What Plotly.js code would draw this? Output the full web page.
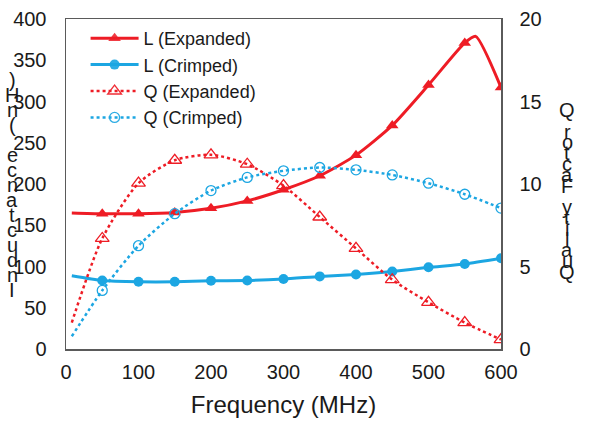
<!DOCTYPE html>
<html>
<head>
<meta charset="utf-8">
<script src="https://cdn.plot.ly/plotly-3.0.1.min.js"></script>
<style>html,body{margin:0;padding:0;background:#fff;}#chart{width:592px;height:428px;}</style>
</head>
<body>
<div id="chart"></div>
<script>
// ---- data ----
const lExpX = [8, 50, 100, 150, 200, 250, 300, 350, 400, 450, 500, 550, 565, 600];
const lExpY = [165, 164, 164, 165.5, 170.5, 179.5, 193, 210, 235, 271, 320, 371, 379, 317];
const lExpMarked = [0, 1, 1, 1, 1, 1, 1, 1, 1, 1, 1, 1, 0, 1];

const lCrX = [8, 50, 100, 150, 200, 250, 300, 350, 400, 450, 500, 550, 600];
const lCrY = [88.8, 83, 81.5, 81.5, 82.7, 83, 84.8, 88, 90.4, 94, 99, 103, 110];
const lCrMarked = [0, 1, 1, 1, 1, 1, 1, 1, 1, 1, 1, 1, 1];

const qExpX = [8, 50, 100, 150, 200, 250, 300, 350, 400, 450, 500, 550, 600];
const qExpY = [1.6, 6.7, 10.05, 11.44, 11.77, 11.2, 9.9, 8.0, 6.1, 4.2, 2.83, 1.6, 0.57];
const qExpMarked = [0, 1, 1, 1, 1, 1, 1, 1, 1, 1, 1, 1, 1];

const qCrX = [8, 50, 100, 150, 200, 250, 300, 350, 400, 450, 500, 550, 600];
const qCrY = [0.77, 3.55, 6.26, 8.2, 9.6, 10.4, 10.8, 11.0, 10.86, 10.55, 10.05, 9.38, 8.54];
const qCrMarked = [0, 1, 1, 1, 1, 1, 1, 1, 1, 1, 1, 1, 1];

const seriesNames = ["L (Expanded)", "L (Crimped)", "Q (Expanded)", "Q (Crimped)"];
const xTitle = "Frequency (MHz)";
const leftTitle = "Inductance (nH)";
const rightTitle = "Quality Factor Q";

const RED = "#ee1c25";
const BLUE = "#1ca6e2";
const FONT = "Liberation Sans, Arial, sans-serif";
const TXT = "#1a1a1a";

function opac(marked) { return marked.map(m => m ? 1 : 0); }

const traces = [
  {x: lExpX, y: lExpY, name: seriesNames[0], mode: "lines+markers", yaxis: "y",
   line: {color: RED, width: 3, shape: "spline", smoothing: 0.6},
   marker: {symbol: "triangle-up", color: RED, size: 11, opacity: opac(lExpMarked)}},
  {x: lCrX, y: lCrY, name: seriesNames[1], mode: "lines+markers", yaxis: "y",
   line: {color: BLUE, width: 3, shape: "spline", smoothing: 0.6},
   marker: {symbol: "circle", color: BLUE, size: 10, opacity: opac(lCrMarked)}},
  {x: qExpX, y: qExpY, name: seriesNames[2], mode: "lines+markers", yaxis: "y2",
   line: {color: RED, width: 2.5, dash: "dot", shape: "spline", smoothing: 0.7},
   marker: {symbol: "triangle-up-open", color: RED, size: 12, opacity: opac(qExpMarked), line: {width: 1.3, color: RED}}},
  {x: qCrX, y: qCrY, name: seriesNames[3], mode: "lines+markers", yaxis: "y2",
   line: {color: BLUE, width: 2.5, dash: "dot", shape: "spline", smoothing: 0.7},
   marker: {symbol: "circle-open", color: BLUE, size: 10, opacity: opac(qCrMarked), line: {width: 1.3, color: BLUE}}}
];

// stacked upright letters for the vertical titles (as in the reference)
const annotations = [];
function stack(text, xPix, yTop, yBottom) {
  const chars = text.split("");
  const n = chars.length;
  chars.forEach((c, i) => {
    if (c === " ") return;
    const yPix = yBottom - (yBottom - yTop) * i / (n - 1);
    annotations.push({
      xref: "paper", yref: "paper",
      x: (xPix - 66) / 435, y: (349 - yPix) / 330,
      text: c, showarrow: false, xanchor: "center", yanchor: "middle",
      font: {family: FONT, size: 20, color: TXT}
    });
  });
}
stack(leftTitle, 12, 80, 290);
stack(rightTitle, 567, 110, 272);

const layout = {
  width: 592, height: 428,
  margin: {l: 66, r: 91, t: 19, b: 79},
  paper_bgcolor: "#fff", plot_bgcolor: "#fff",
  font: {family: FONT, size: 20, color: TXT},
  showlegend: true,
  legend: {x: 0.045, y: 0.997, xanchor: "left", yanchor: "top", bgcolor: "rgba(255,255,255,0)",
           itemwidth: 48, font: {family: FONT, size: 18, color: TXT}},
  xaxis: {range: [0, 600], tickvals: [0, 100, 200, 300, 400, 500, 600], showgrid: false, zeroline: false,
          showline: true, linecolor: "#5a5a5a", linewidth: 1.5, mirror: true, ticks: "",
          ticklabelstandoff: 4,
          tickfont: {family: FONT, size: 20, color: TXT},
          title: {text: xTitle, font: {family: FONT, size: 24, color: TXT}, standoff: 14}},
  yaxis: {range: [0, 400], dtick: 50, showgrid: false, zeroline: false,
          showline: true, linecolor: "#5a5a5a", linewidth: 1.5, mirror: true, ticks: "",
          ticklabelstandoff: 14,
          tickfont: {family: FONT, size: 20, color: TXT}},
  yaxis2: {range: [0, 20], dtick: 5, overlaying: "y", side: "right", showgrid: false, zeroline: false,
           showline: true, linecolor: "#5a5a5a", linewidth: 1.5, ticks: "",
           ticklabelstandoff: 13,
           tickfont: {family: FONT, size: 20, color: TXT}},
  annotations: annotations
};

Plotly.newPlot("chart", traces, layout, {displayModeBar: false, staticPlot: true});
</script>
</body>
</html>
